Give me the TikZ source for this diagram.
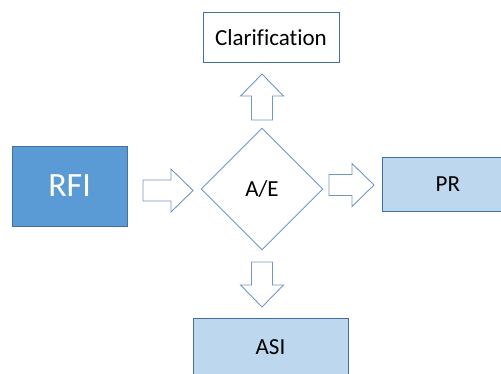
\documentclass[tikz,border=0pt]{standalone}
\usepackage{fontspec}
\setmainfont[Ligatures=NoCommon]{Carlito}
\usepackage{tikz}
\usetikzlibrary{shapes.geometric, positioning, calc}

\definecolor{rfiblue}{HTML}{5B9BD5}
\definecolor{edgeblue}{HTML}{41719C}
\definecolor{lightblue}{HTML}{BDD7EE}
\definecolor{arrowblue}{HTML}{7396C2}

\begin{document}
\begin{tikzpicture}[
  x=1pt, y=-1pt,
  box/.style={draw=edgeblue, line width=0.9pt, minimum width=136pt,
              minimum height=50pt, font=\fontsize{23}{27}\selectfont,
              fill=white, inner sep=0pt},
  lbox/.style={box, fill=lightblue},
  decision/.style={diamond, draw=arrowblue, line width=0.9pt, fill=white,
                   minimum width=122pt, minimum height=122pt, inner sep=0pt,
                   font=\fontsize{23}{27}\selectfont},
  pics/blockarr/.style={code={
    \draw[draw=arrowblue, line width=0.9pt, fill=white]
      (0,-10.5) -- (#1-22,-10.5) -- (#1-22,-21.5) -- (#1,0)
      -- (#1-22,21.5) -- (#1-22,10.5) -- (0,10.5) -- cycle;}}
]
\useasboundingbox (0,0) rectangle (501,373);
\clip (0,0) rectangle (501,373);

% decision
\node[decision] (ae) at (262,189) {A/E};

% boxes round it
\node[box, above=65pt of ae, xshift=9pt] (clar) {Clarification};
\node[box, left=73pt of ae, yshift=3pt, minimum width=115pt,
      minimum height=80pt, fill=rfiblue, text=white,
      font=\fontsize{34}{40}\selectfont] (rfi) {RFI};
\node[lbox, right=59pt of ae, yshift=5pt, minimum width=130pt,
      minimum height=54pt] (pr) {PR};
\node[lbox, below=68pt of ae, xshift=8.5pt, minimum width=155pt,
      minimum height=57pt] (asi) {ASI};

% block arrows
\pic at (143,190.5) {blockarr=50};
\pic[rotate=90] at (262,120) {blockarr=46};
\pic at (329,185) {blockarr=45};
\pic[rotate=-90] at (262,262) {blockarr=45};
\end{tikzpicture}
\end{document}
